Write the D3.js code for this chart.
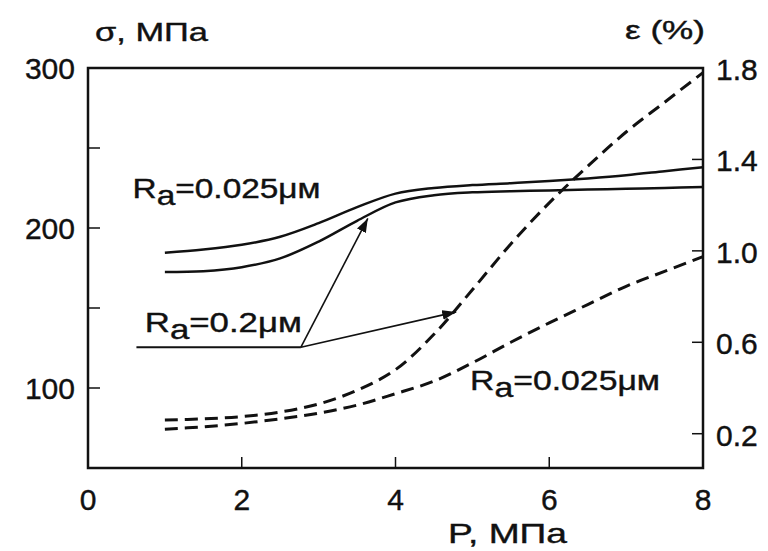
<!DOCTYPE html>
<meta charset="utf-8">
<style>
  body { margin: 0; background: #fff; }
  text { font-family: "Liberation Sans", Arial, sans-serif; fill: #111; stroke: #111; stroke-width: 0.4px; }
</style>

<!-- Load d3.js -->
<script src="https://d3js.org/d3.v7.min.js"></script>

<!-- Create a div where the graph will take place -->
<div id="my_dataviz"></div>

<script>

// pressure P, MPa (x values shared by all curves)
var pressure = [1, 1.5, 2, 2.5, 3, 3.5, 4, 4.5, 5, 5.5, 6, 6.5, 7, 7.5, 8];

// stress sigma, MPa (left axis) - solid curves
var sigmaUpper = [184.5, 186.5, 189.5, 194.5, 203, 213, 221.5, 225, 226.8, 228, 229.3, 231, 233, 235.5, 238];
var sigmaLower = [172.5, 173, 175.5, 181, 191.5, 204.5, 216, 220.5, 222.3, 223, 223.5, 224, 224.5, 225, 225.6];

// strain eps, % (right axis) - dashed curves
var epsSteep = [0.26, 0.265, 0.275, 0.295, 0.33, 0.39, 0.48, 0.635, 0.83, 1.03, 1.21, 1.37, 1.52, 1.65, 1.78];
var epsLower = [0.22, 0.23, 0.245, 0.265, 0.29, 0.325, 0.375, 0.43, 0.51, 0.60, 0.685, 0.765, 0.845, 0.91, 0.975];

// ticks
var xTicks = [2, 4, 6];
var xTickLabels = [0, 2, 4, 6, 8];
var sigmaTicks = [100, 150, 200, 250];
var sigmaTickLabels = [100, 200, 300];
var epsTicks = [0.2, 0.6, 1.0, 1.4];
var epsTickLabels = [0.2, 0.6, 1.0, 1.4, 1.8];

// annotation: leader line for Ra=0.2 and where its arrows point
var leaderP = [0.63, 2.77];
var leaderSigma = 125.5;
var arrowSolid = [3.64, 206];    // P, sigma
var arrowDashed = [4.79, 0.733]; // P, eps

// set the dimensions and margins of the graph
var margin = {top: 68, right: 65, bottom: 83, left: 88},
    width = 768 - margin.left - margin.right,
    height = 551 - margin.top - margin.bottom;

var svg = d3.select("#my_dataviz")
  .append("svg")
    .attr("width", 768)
    .attr("height", 551)
  .append("g")
    .attr("transform", "translate(" + margin.left + "," + margin.top + ")");

// scales
var x = d3.scaleLinear().domain([0, 8]).range([0, width]);
var ySig = d3.scaleLinear().domain([50, 300]).range([height, 0]);
var yEps = d3.scaleLinear().domain([0.05, 1.8]).range([height, 0]);

// arrow head
svg.append("defs").append("marker")
    .attr("id", "head")
    .attr("viewBox", "0 0 14 10")
    .attr("refX", 14)
    .attr("refY", 5)
    .attr("markerWidth", 14)
    .attr("markerHeight", 10)
    .attr("markerUnits", "userSpaceOnUse")
    .attr("orient", "auto")
  .append("path")
    .attr("d", "M0,0L14,5L0,10Z")
    .attr("fill", "#111");

// frame
svg.append("rect")
    .attr("width", width)
    .attr("height", height)
    .attr("fill", "none")
    .attr("stroke", "#111")
    .attr("stroke-width", 2.5);

// inner ticks
svg.append("g")
  .selectAll("line")
  .data(xTicks)
  .enter()
  .append("line")
    .attr("x1", function(d) { return x(d); })
    .attr("x2", function(d) { return x(d); })
    .attr("y1", height)
    .attr("y2", height - 11)
    .attr("stroke", "#111")
    .attr("stroke-width", 1.5);

svg.append("g")
  .selectAll("line")
  .data(sigmaTicks)
  .enter()
  .append("line")
    .attr("x1", 0)
    .attr("x2", 12)
    .attr("y1", function(d) { return ySig(d); })
    .attr("y2", function(d) { return ySig(d); })
    .attr("stroke", "#111")
    .attr("stroke-width", 1.5);

svg.append("g")
  .selectAll("line")
  .data(epsTicks)
  .enter()
  .append("line")
    .attr("x1", width)
    .attr("x2", width - 11)
    .attr("y1", function(d) { return yEps(d); })
    .attr("y2", function(d) { return yEps(d); })
    .attr("stroke", "#111")
    .attr("stroke-width", 1.5);

// tick labels
svg.append("g")
  .selectAll("text")
  .data(xTickLabels)
  .enter()
  .append("text")
    .attr("x", function(d) { return x(d); })
    .attr("y", height + 42)
    .attr("text-anchor", "middle")
    .style("font-size", "30px")
    .text(function(d) { return d; });

svg.append("g")
  .selectAll("text")
  .data(sigmaTickLabels)
  .enter()
  .append("text")
    .attr("x", -13)
    .attr("y", function(d) { return ySig(d) + 11; })
    .attr("text-anchor", "end")
    .style("font-size", "30px")
    .text(function(d) { return d; });

svg.append("g")
  .selectAll("text")
  .data(epsTickLabels)
  .enter()
  .append("text")
    .attr("x", width + 13)
    .attr("y", function(d) { return yEps(d) + 12; })
    .style("font-size", "30px")
    .text(function(d) { return d.toFixed(1); });

// axis titles
svg.append("text")
    .attr("x", 7).attr("y", -27)
    .attr("textLength", 113).attr("lengthAdjust", "spacingAndGlyphs")
    .style("font-size", "26px")
    .text("σ, МПа");

svg.append("text")
    .attr("x", 537).attr("y", -29)
    .attr("textLength", 80).attr("lengthAdjust", "spacingAndGlyphs")
    .style("font-size", "26px")
    .text("ε (%)");

svg.append("text")
    .attr("x", 360).attr("y", height + 75)
    .attr("textLength", 119).attr("lengthAdjust", "spacingAndGlyphs")
    .style("font-size", "28px")
    .text("P, МПа");

// curves
var sigmaLine = d3.line()
  .x(function(d, i) { return x(pressure[i]); })
  .y(function(d) { return ySig(d); })
  .curve(d3.curveCatmullRom.alpha(0.5));

var epsLine = d3.line()
  .x(function(d, i) { return x(pressure[i]); })
  .y(function(d) { return yEps(d); })
  .curve(d3.curveCatmullRom.alpha(0.5));

[sigmaUpper, sigmaLower].forEach(function(s) {
  svg.append("path")
    .datum(s)
    .attr("d", sigmaLine)
    .attr("fill", "none")
    .attr("stroke", "#111")
    .attr("stroke-width", 2.5);
});

[epsSteep, epsLower].forEach(function(s) {
  svg.append("path")
    .datum(s)
    .attr("d", epsLine)
    .attr("fill", "none")
    .attr("stroke", "#111")
    .attr("stroke-width", 3)
    .attr("stroke-dasharray", "13,7");
});

// Ra=0.2 leader and arrows
svg.append("line")
    .attr("x1", x(leaderP[0])).attr("x2", x(leaderP[1]))
    .attr("y1", ySig(leaderSigma)).attr("y2", ySig(leaderSigma))
    .attr("stroke", "#111").attr("stroke-width", 2);

svg.append("line")
    .attr("x1", x(leaderP[1])).attr("y1", ySig(leaderSigma))
    .attr("x2", x(arrowSolid[0])).attr("y2", ySig(arrowSolid[1]))
    .attr("stroke", "#111").attr("stroke-width", 1.6)
    .attr("marker-end", "url(#head)");

svg.append("line")
    .attr("x1", x(leaderP[1])).attr("y1", ySig(leaderSigma))
    .attr("x2", x(arrowDashed[0])).attr("y2", yEps(arrowDashed[1]))
    .attr("stroke", "#111").attr("stroke-width", 1.6)
    .attr("marker-end", "url(#head)");

// Ra labels (R with subscript a)
function raLabel(px, py, value, len) {
  var t = svg.append("text")
    .attr("x", px).attr("y", py)
    .attr("textLength", len).attr("lengthAdjust", "spacingAndGlyphs")
    .style("font-size", "28px");
  t.append("tspan").text("R");
  t.append("tspan").attr("dy", 7).text("a");
  t.append("tspan").attr("dy", -7).text("=" + value + "μм");
}
raLabel(x(0.58), ySig(218.75), "0.025", 188);
raLabel(x(0.74), ySig(135), "0.2", 157);
raLabel(x(4.97), yEps(0.391), "0.025", 190);

</script>
